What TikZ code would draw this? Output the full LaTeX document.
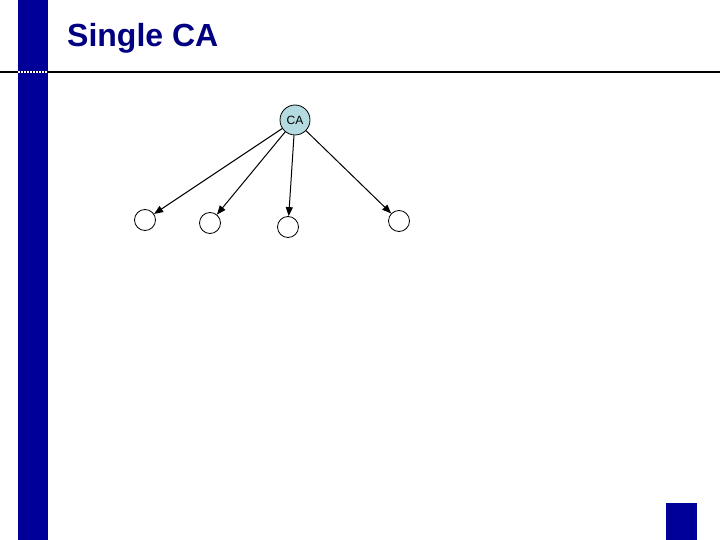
\documentclass[tikz,border=0pt]{standalone}
\usepackage{fontspec}
\setmainfont{Liberation Sans}
\usetikzlibrary{arrows.meta}
\definecolor{barblue}{HTML}{000099}
\definecolor{titleblue}{HTML}{000080}
\definecolor{cafill}{HTML}{B4DCE0}
\begin{document}
\begin{tikzpicture}[x=1pt,y=-1pt,
  leaf/.style={circle,draw=black,line width=0.8pt,fill=white,minimum size=21pt,inner sep=0pt},
  conn/.style={-{Triangle[length=9pt,width=7pt]},line width=1pt}]
\useasboundingbox (0,0) rectangle (720,540);
\fill[white] (0,0) rectangle (720,540);
\fill[barblue] (18,0) rectangle (48,540);
\draw[line width=1.6pt] (0,72) -- (720,72);
\draw[white,line width=1.2pt,dash pattern=on 1.5pt off 1.5pt] (18,72) -- (48,72);
\node[anchor=base west,text=titleblue,font=\fontsize{32}{36}\selectfont\bfseries,inner sep=0pt] (title) at (67,47) {Single CA};
\fill[barblue] (666,503) rectangle (697,540);
\node[circle,draw=black,line width=0.8pt,fill=cafill,minimum size=30pt,inner sep=0pt,font=\fontsize{12}{14}\selectfont] (ca) at (295,120) {CA};
\node[leaf] (l1) at (145,220) {};
\node[leaf] (l2) at (210,223) {};
\node[leaf] (l3) at (288,227) {};
\node[leaf] (l4) at (399,221) {};
\draw[conn] (ca) -- (l1);
\draw[conn] (ca) -- (l2);
\draw[conn] (ca) -- (l3);
\draw[conn] (ca) -- (l4);
\end{tikzpicture}
\end{document}
